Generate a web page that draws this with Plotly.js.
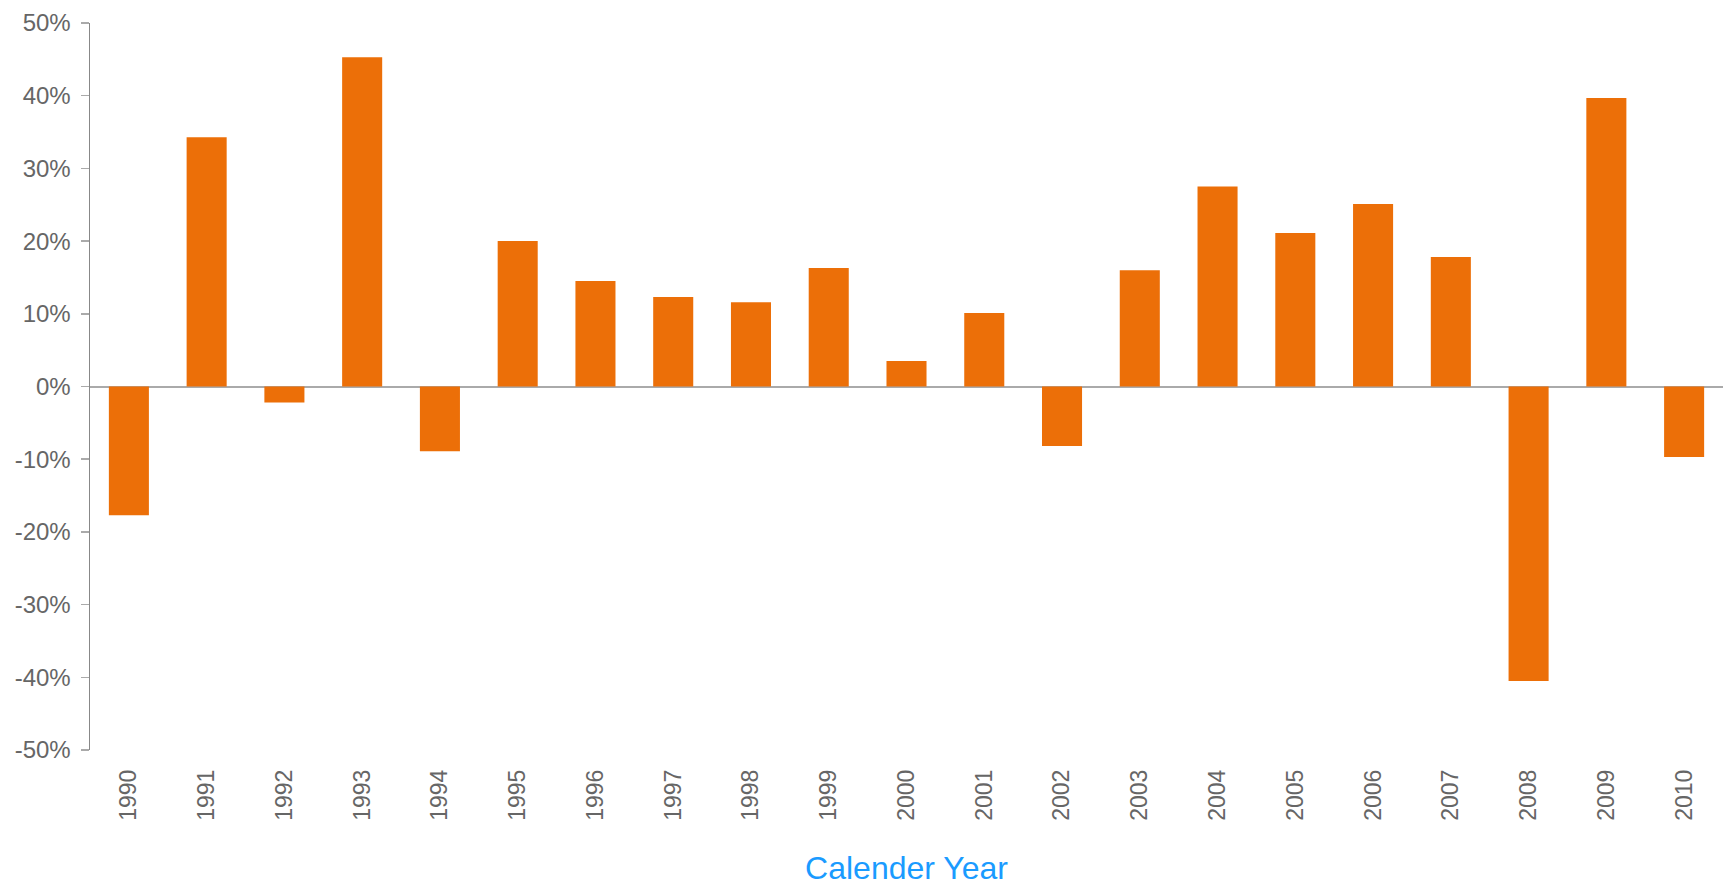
<!DOCTYPE html>
<html>
<head>
<meta charset="utf-8">
<script src="https://cdn.plot.ly/plotly-3.0.1.min.js"></script>
<style>
  html, body { margin: 0; padding: 0; background: #ffffff; }
  #chart { width: 1724px; height: 886px; }
</style>
</head>
<body>
<div id="chart"></div>
<script>
const years = ['1990','1991','1992','1993','1994','1995','1996','1997','1998','1999','2000',
               '2001','2002','2003','2004','2005','2006','2007','2008','2009','2010'];
const returnsPct = [-17.7, 34.3, -2.2, 45.3, -8.9, 20.0, 14.5, 12.3, 11.6, 16.3, 3.5,
                    10.1, -8.2, 16.0, 27.5, 21.1, 25.1, 17.8, -40.5, 39.7, -9.7];
const yTickVals = [-50, -40, -30, -20, -10, 0, 10, 20, 30, 40, 50];
const yTickText = ['-50%', '-40%', '-30%', '-20%', '-10%', '0%', '10%', '20%', '30%', '40%', '50%'];
const xTitle = 'Calender Year';

const trace = {
  type: 'bar',
  x: years,
  y: returnsPct,
  marker: { color: '#EC6F08', line: { width: 0 } },
  hoverinfo: 'x+y'
};

const layout = {
  width: 1724,
  height: 886,
  paper_bgcolor: '#ffffff',
  plot_bgcolor: '#ffffff',
  margin: { l: 90, r: 1, t: 23, b: 136 },
  showlegend: false,
  bargap: 0.485,
  font: { family: 'Liberation Sans, Arial, sans-serif', color: '#666666' },
  xaxis: {
    type: 'category',
    showline: false,
    showgrid: false,
    zeroline: false,
    ticks: '',
    tickangle: -90,
    tickfont: { size: 23, color: '#666666' },
    ticklabelstandoff: 14,
    automargin: false,
    title: { text: xTitle, font: { size: 32, color: '#1A9BFF' }, standoff: 42 }
  },
  yaxis: {
    range: [-50, 50],
    tickvals: yTickVals,
    ticktext: yTickText,
    showgrid: false,
    showline: true,
    linecolor: '#888888',
    linewidth: 1.5,
    ticks: 'outside',
    ticklen: 8,
    tickwidth: 1.5,
    tickcolor: '#aaaaaa',
    tickfont: { size: 24, color: '#666666' },
    ticklabelstandoff: 5,
    zeroline: true,
    zerolinecolor: '#aaaaaa',
    zerolinewidth: 2,
    layer: 'above traces',
    automargin: false,
    fixedrange: true
  }
};

Plotly.newPlot('chart', [trace], layout, { displayModeBar: false, staticPlot: true });
</script>
</body>
</html>
